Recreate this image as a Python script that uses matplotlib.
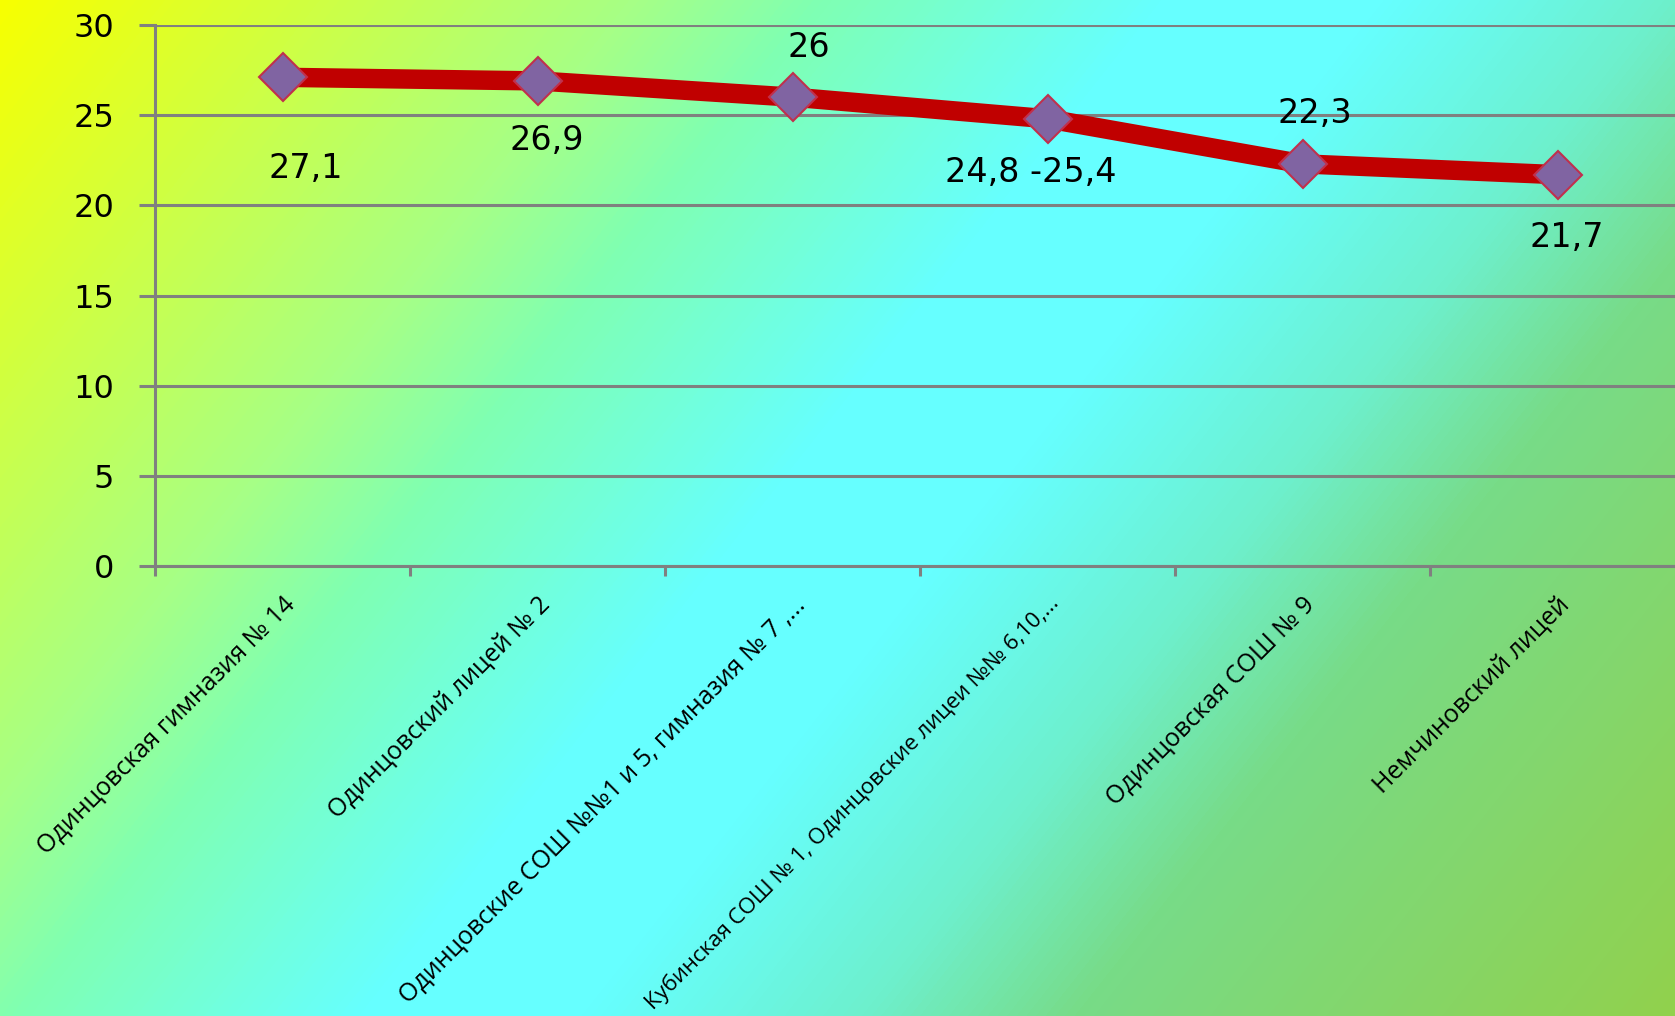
import numpy as np
import matplotlib
matplotlib.use("Agg")
import matplotlib.pyplot as plt
from matplotlib.colors import LinearSegmentedColormap

# Данные диаграммы
schools = [
    "Одинцовская гимназия № 14",
    "Одинцовский лицей № 2",
    "Одинцовские СОШ №№1 и 5, гимназия № 7 ,...",
    "Кубинская СОШ № 1, Одинцовские лицеи №№ 6,10,...",
    "Одинцовская СОШ № 9",
    "Немчиновский лицей",
]
scores = [27.1, 26.9, 26.0, 24.8, 22.3, 21.7]
value_labels = ["27,1", "26,9", "26", "24,8 -25,4", "22,3", "21,7"]
y_ticks = [0, 5, 10, 15, 20, 25, 30]

W, H = 1675, 1016
fig = plt.figure(figsize=(W / 100, H / 100), dpi=100)

# Фон: диагональный градиент
bg = fig.add_axes([0, 0, 1, 1], zorder=0)
bg.axis("off")
xx, yy = np.meshgrid(np.arange(W), np.arange(H))
t = (xx + 0.79 * yy) / (W + 0.79 * H)
grad = LinearSegmentedColormap.from_list("bg", [
    (0.0, (0.97, 1.0, 0.0)),
    (0.257, (0.65, 1.0, 0.53)),
    (0.33, (0.50, 1.0, 0.70)),
    (0.47, (0.40, 1.0, 1.0)),
    (0.56, (0.40, 1.0, 1.0)),
    (0.674, (0.43, 0.94, 0.80)),
    (0.76, (0.47, 0.86, 0.53)),
    (1.0, (0.57, 0.82, 0.30)),
])
bg.imshow(t, cmap=grad, aspect="auto", extent=(0, 1, 0, 1), origin="upper")
bg.set_xlim(0, 1)
bg.set_ylim(0, 1)

ax = fig.add_axes([155 / W, 450 / H, 1530 / W, 541 / H], zorder=1)
ax.patch.set_alpha(0)

x = np.arange(len(schools))
ax.plot(x, scores, color="#C00000", lw=14, solid_capstyle="butt",
        marker="D", ms=24, mfc="#8064A2", mec="#C0304D", mew=1.5, zorder=3)

# Подписи значений
offsets = [(17, -66), (7, -43), (12, 36), (-12, -39), (9, 36), (7, -45)]
for xi, yi, lab, off in zip(x, scores, value_labels, offsets):
    ax.annotate(lab, (xi, yi), xytext=off, textcoords="offset points",
                ha="center", va="center", fontsize=24, color="black", zorder=4)

ax.set_xlim(-0.5, len(schools) - 0.5)
ax.set_ylim(0, 30)
ax.set_yticks(y_ticks)
ax.set_yticklabels([str(v) for v in y_ticks], fontsize=23)
ax.yaxis.grid(True, color="#808080", lw=2.2)
ax.set_axisbelow(True)

ax.set_xticks(np.arange(len(schools) + 1) - 0.5)
ax.set_xticklabels([])
ax.set_xticks(x, minor=True)
ax.set_xticklabels(schools, minor=True, rotation=45, ha="right",
                   rotation_mode="anchor", fontsize=18, family="Open Sans")
# длинная подпись чуть мельче, чтобы почти вся помещалась
ax.get_xticklabels(minor=True)[3].set_fontsize(16)
ax.tick_params(axis="x", which="minor", length=0, pad=19)
ax.tick_params(axis="x", which="major", length=7, width=2.2, color="#808080")
ax.tick_params(axis="y", length=11.5, width=2.2, color="#808080", pad=18)

for s in ["top", "right"]:
    ax.spines[s].set_visible(False)
for s in ["left", "bottom"]:
    ax.spines[s].set_color("#808080")
    ax.spines[s].set_linewidth(2.2)

fig.savefig("out.png", dpi=100)
